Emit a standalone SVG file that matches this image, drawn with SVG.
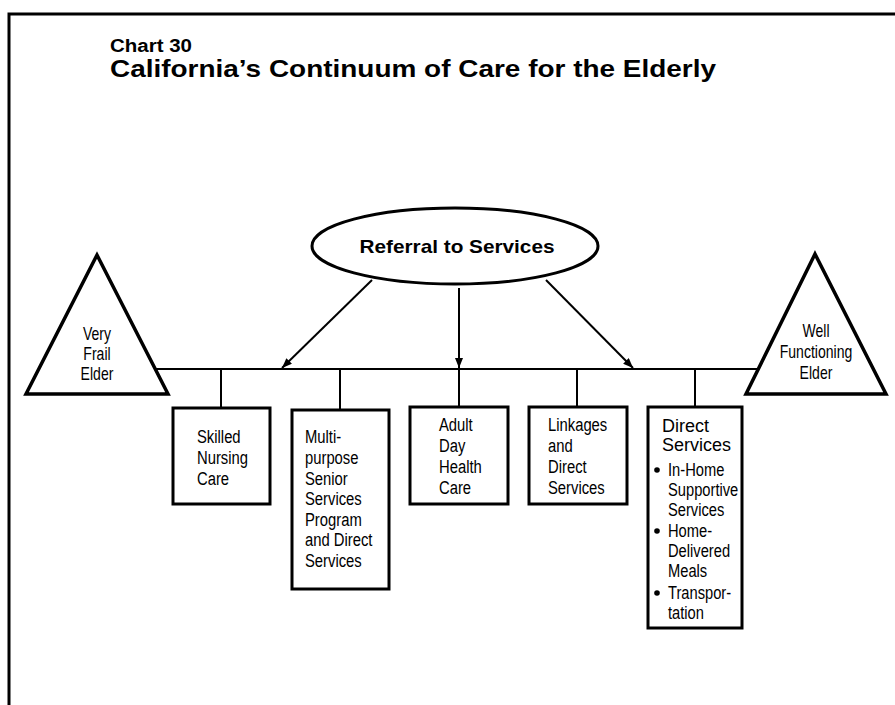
<svg xmlns="http://www.w3.org/2000/svg" width="895" height="705" viewBox="0 0 895 705">
<style>
.t{font-family:"Liberation Sans",Arial,sans-serif;font-size:19px;fill:#000}
.s{font-family:"Liberation Sans",Arial,sans-serif;font-size:17.5px;fill:#000}
.tt{font-family:"Liberation Sans",Arial,sans-serif;font-size:18px;fill:#000;text-anchor:middle}
.b{font-family:"Liberation Sans",Arial,sans-serif;font-weight:bold;fill:#000}
.h{font-family:"Liberation Sans",Arial,sans-serif;font-size:18px;fill:#000}
.box{fill:#fff;stroke:#000;stroke-width:3}
.tri{fill:#fff;stroke:#000;stroke-width:3.5;stroke-linejoin:miter}
.ln{stroke:#000;stroke-width:2;fill:none}
</style>
<defs>
<marker id="ah" viewBox="0 0 10 8" refX="10" refY="4" markerWidth="10" markerHeight="8" markerUnits="userSpaceOnUse" orient="auto">
<path d="M0,0 L10,4 L0,8 Z" fill="#000"/>
</marker>
</defs>
<rect width="895" height="705" fill="#fff"/>
<g id="frame">
<path d="M9,705 V14 H895" fill="none" stroke="#000" stroke-width="3"/>
</g>
<g id="title">
<text class="b" x="110" y="52" font-size="18" textLength="82" lengthAdjust="spacingAndGlyphs">Chart 30</text>
<text class="b" x="110" y="77" font-size="24" textLength="606" lengthAdjust="spacingAndGlyphs">California’s Continuum of Care for the Elderly</text>
</g>
<g id="connectors">
<line class="ln" x1="155" y1="369" x2="758" y2="369"/>
<line class="ln" x1="221" y1="369" x2="221" y2="408"/>
<line class="ln" x1="340" y1="369" x2="340" y2="410"/>
<line class="ln" x1="459" y1="369" x2="459" y2="407"/>
<line class="ln" x1="577" y1="369" x2="577" y2="407"/>
<line class="ln" x1="695" y1="369" x2="695" y2="407"/>
<line class="ln" x1="372" y1="280" x2="282" y2="368" marker-end="url(#ah)"/>
<line class="ln" x1="459" y1="288" x2="459" y2="368" marker-end="url(#ah)"/>
<line class="ln" x1="546" y1="280" x2="633" y2="368" marker-end="url(#ah)"/>
</g>
<g id="referral">
<ellipse cx="455" cy="246" rx="143" ry="38" fill="#fff" stroke="#000" stroke-width="3"/>
<text class="b" x="457" y="253" font-size="19" text-anchor="middle" textLength="195" lengthAdjust="spacingAndGlyphs">Referral to Services</text>
</g>
<g id="very-frail-elder">
<polygon class="tri" points="97,255 168,394 26,394"/>
<g transform="translate(97,0) scale(0.78,1)">
<text class="tt" x="0" y="340">Very</text>
<text class="tt" x="0" y="360">Frail</text>
<text class="tt" x="0" y="380">Elder</text>
</g>
</g>
<g id="well-functioning-elder">
<polygon class="tri" points="815,254 886,394 746,394"/>
<g transform="translate(816,0) scale(0.78,1)">
<text class="tt" x="0" y="337">Well</text>
<text class="tt" x="0" y="358">Functioning</text>
<text class="tt" x="0" y="379">Elder</text>
</g>
</g>
<g id="skilled-nursing">
<rect class="box" x="173" y="408" width="97" height="96"/>
<g transform="translate(197,0) scale(0.78,1)">
<text class="t" x="0" y="443">Skilled</text>
<text class="t" x="0" y="464">Nursing</text>
<text class="t" x="0" y="485">Care</text>
</g>
</g>
<g id="mssp">
<rect class="box" x="292" y="410" width="97" height="179"/>
<g transform="translate(305,0) scale(0.78,1)">
<text class="t" x="0" y="443">Multi-</text>
<text class="t" x="0" y="464">purpose</text>
<text class="t" x="0" y="485">Senior</text>
<text class="t" x="0" y="505">Services</text>
<text class="t" x="0" y="526">Program</text>
<text class="t" x="0" y="546">and Direct</text>
<text class="t" x="0" y="567">Services</text>
</g>
</g>
<g id="adult-day">
<rect class="box" x="410" y="407" width="98" height="97"/>
<g transform="translate(439,0) scale(0.78,1)">
<text class="t" x="0" y="431">Adult</text>
<text class="t" x="0" y="452">Day</text>
<text class="t" x="0" y="473">Health</text>
<text class="t" x="0" y="494">Care</text>
</g>
</g>
<g id="linkages">
<rect class="box" x="529" y="407" width="98" height="97"/>
<g transform="translate(548,0) scale(0.78,1)">
<text class="t" x="0" y="431">Linkages</text>
<text class="t" x="0" y="452">and</text>
<text class="t" x="0" y="473">Direct</text>
<text class="t" x="0" y="494">Services</text>
</g>
</g>
<g id="direct-services">
<rect class="box" x="648" y="407" width="94" height="221"/>
<text class="h" x="662" y="432">Direct</text>
<text class="h" x="662" y="451">Services</text>
<circle cx="657" cy="470" r="2.8" fill="#000"/>
<circle cx="657" cy="531" r="2.8" fill="#000"/>
<circle cx="657" cy="593" r="2.8" fill="#000"/>
<g transform="translate(668,0) scale(0.84,1)">
<text class="s" x="0" y="476">In-Home</text>
<text class="s" x="0" y="496">Supportive</text>
<text class="s" x="0" y="516">Services</text>
<text class="s" x="0" y="537">Home-</text>
<text class="s" x="0" y="557">Delivered</text>
<text class="s" x="0" y="577">Meals</text>
<text class="s" x="0" y="599">Transpor-</text>
<text class="s" x="0" y="619">tation</text>
</g>
</g>
</svg>
